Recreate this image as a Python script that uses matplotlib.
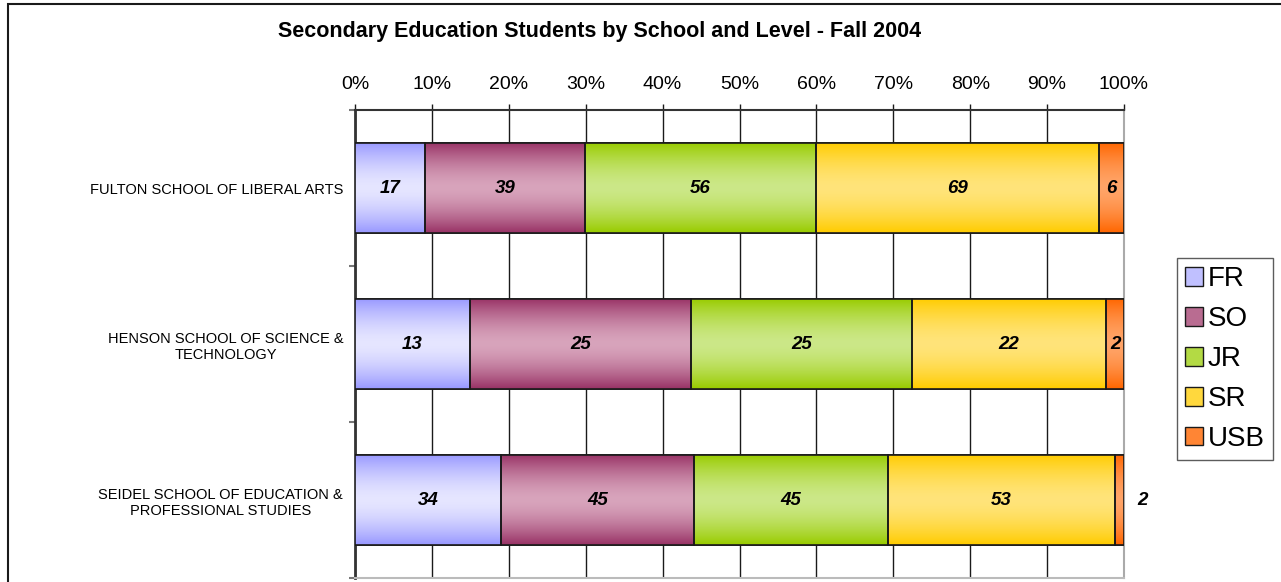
"""
Secondary Education Students by School and Level - Fall 2004
100% stacked horizontal bars with Excel-style gradient fills
"""

import matplotlib
matplotlib.use('Agg')
import matplotlib.pyplot as plt
from matplotlib.patches import Patch, Rectangle
from matplotlib.colors import to_rgb
import numpy as np

plt.rcParams['font.family'] = ['Liberation Sans', 'DejaVu Sans']

# Data
schools = ['FULTON SCHOOL OF LIBERAL ARTS',
           'HENSON SCHOOL OF SCIENCE &\nTECHNOLOGY',
           'SEIDEL SCHOOL OF EDUCATION &\nPROFESSIONAL STUDIES']
levels = ['FR', 'SO', 'JR', 'SR', 'USB']
fr = [17, 13, 34]
so = [39, 25, 45]
jr = [56, 25, 45]
sr = [69, 22, 53]
usb = [6, 2, 2]

# (edge colour, centre colour) for each level's gradient
grad_colors = [('#9999FF', '#E6E6FF'),
               ('#993366', '#D8A4BC'),
               ('#99CC00', '#CCE888'),
               ('#FFCC00', '#FFE47A'),
               ('#FF6600', '#FFA468')]

series = np.array([fr, so, jr, sr, usb], dtype=float)
totals = series.sum(axis=0)
shares = series / totals

fig = plt.figure(figsize=(12.81, 5.82), dpi=100)
ax = fig.add_axes([355/1281, 1 - 578/582, 769/1281, 468/582])

y = np.arange(len(schools))
bar_h = 0.583


def gradient_image(edge, centre, n=64):
    t = np.abs(np.linspace(-1, 1, n)) ** 1.6
    e = np.array(to_rgb(edge))
    c = np.array(to_rgb(centre))
    img = c[None, :] + (e - c)[None, :] * t[:, None]
    return img[:, None, :]


left = np.zeros(len(schools))
for i, lvl in enumerate(levels):
    bars = ax.barh(y, shares[i], left=left, height=bar_h,
                   color=grad_colors[i][0], edgecolor='#1a1a1a',
                   linewidth=1.2, zorder=3)
    img = gradient_image(*grad_colors[i])
    for b, val, sh, l in zip(bars, series[i], shares[i], left):
        x0, y0 = b.get_x(), b.get_y()
        w, h = b.get_width(), b.get_height()
        im = ax.imshow(img, extent=(x0, x0 + w, y0 + h, y0), aspect='auto',
                       interpolation='bilinear', zorder=3.5)
        im.set_clip_path(b)
        ax.add_patch(Rectangle((x0, y0), w, h, fill=False,
                               edgecolor='#1a1a1a', linewidth=1.2, zorder=4))
        # value labels: inside the segment unless it is too narrow
        if sh < 0.02:
            ax.text(1.0 + 0.024, b.get_y() + h / 2, f'{int(val)}',
                    ha='center', va='center', fontsize=13.5,
                    fontweight='bold', fontstyle='italic', zorder=5,
                    clip_on=False)
        else:
            ax.text(l + sh / 2, b.get_y() + h / 2, f'{int(val)}',
                    ha='center', va='center', fontsize=13.5,
                    fontweight='bold', fontstyle='italic', zorder=5)
    left = left + shares[i]

ax.set_xlim(0, 1)
ax.set_ylim(len(schools) - 0.5, -0.5)

# x axis on top, percentages
ax.xaxis.tick_top()
ax.set_xticks(np.linspace(0, 1, 11))
ax.set_xticklabels([f'{int(round(v * 100))}%' for v in np.linspace(0, 1, 11)])
ax.tick_params(axis='x', which='major', direction='out', length=4,
               width=1, color='#1a1a1a', labelsize=14, pad=8)
ax.xaxis.grid(True, color='#1a1a1a', linewidth=1, zorder=0)

# y axis: labels at centres, tick marks at category boundaries
ax.set_yticks(y)
ax.set_yticklabels(schools, fontsize=10.5, multialignment='center')
ax.tick_params(axis='y', which='major', length=0, pad=8.5)
ax.set_yticks(np.arange(-0.5, len(schools)), minor=True)
ax.tick_params(axis='y', which='minor', direction='out', length=4,
               width=1.5, color='#777777')

ax.set_axisbelow(True)
ax.spines['top'].set_color('#333333')
ax.spines['top'].set_linewidth(1.5)
ax.spines['left'].set_color('#333333')
ax.spines['left'].set_linewidth(2)
ax.spines['right'].set_color('#aaaaaa')
ax.spines['right'].set_linewidth(1.5)
ax.spines['bottom'].set_color('#bbbbbb')
ax.spines['bottom'].set_linewidth(1.5)

fig.text(600/1281, 1 - 31/582,
         'Secondary Education Students by School and Level - Fall 2004',
         ha='center', va='center', fontsize=15.5, fontweight='bold')

# legend
handles = [Patch(facecolor=tuple((np.array(to_rgb(e)) + np.array(to_rgb(c))) / 2),
                 edgecolor='#1a1a1a', linewidth=1) for e, c in grad_colors]
leg = fig.legend(handles, levels, loc='upper left',
                 bbox_to_anchor=(1177/1281, 1 - 258/582),
                 fontsize=20, frameon=True, fancybox=False,
                 edgecolor='#333333', handlelength=0.65, handleheight=0.65,
                 handletextpad=0.15, labelspacing=0.5, borderpad=0.3,
                 borderaxespad=0)
leg.get_frame().set_linewidth(1)

# outer chart border
fig.add_artist(Rectangle((8/1281, -0.05), 1.1, 1 - 4/582 + 0.05,
                         transform=fig.transFigure, fill=False,
                         edgecolor='#1a1a1a', linewidth=1.5))

plt.savefig('out.png', dpi=100, facecolor='white')
plt.close()
